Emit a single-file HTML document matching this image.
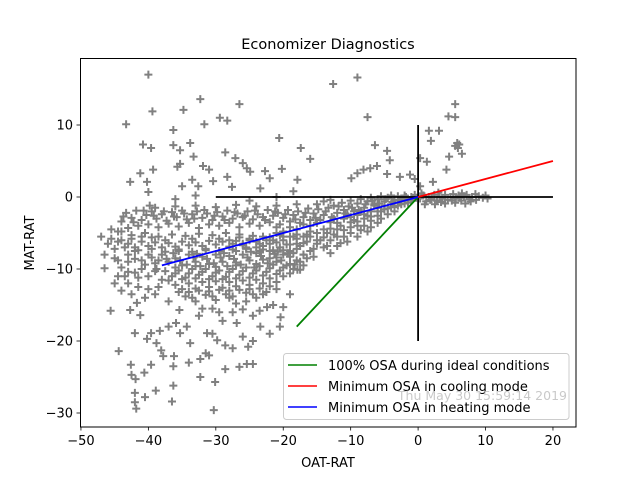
<!DOCTYPE html>
<html><head><meta charset="utf-8"><style>
html,body{margin:0;padding:0;background:#fff;}
svg{display:block;font-family:"DejaVu Sans","Liberation Sans",sans-serif;}
</style></head><body>
<svg id="chart" width="640" height="480" viewBox="0 0 640 480" xmlns="http://www.w3.org/2000/svg">
<rect x="0" y="0" width="640" height="480" fill="#fff"/>
<text x="328" y="49" text-anchor="middle" font-size="14.5" fill="#000">Economizer Diagnostics</text>
<g id="points"></g>
<g id="lines"></g>
<rect x="80.5" y="58.5" width="495.5" height="368.5" fill="none" stroke="#000" stroke-width="1"/>
<g id="xaxis"></g>
<g id="yaxis"></g>
<text x="328" y="467" text-anchor="middle" font-size="13">OAT-RAT</text>
<text x="34" y="243" text-anchor="middle" font-size="13" transform="rotate(-90 34 243)">MAT-RAT</text>
<g>
<rect x="283.5" y="353.5" width="285.5" height="66" rx="3" fill="#fff" fill-opacity="0.8" stroke="#ccc"/>
<line x1="288" y1="365" x2="317" y2="365" stroke="green" stroke-width="1.5"/>
<text x="328" y="370" font-size="13">100% OSA during ideal conditions</text>
<line x1="288" y1="386" x2="317" y2="386" stroke="red" stroke-width="1.5"/>
<text x="328" y="391" font-size="13">Minimum OSA in cooling mode</text>
<line x1="288" y1="407" x2="317" y2="407" stroke="blue" stroke-width="1.5"/>
<text x="328" y="412" font-size="13">Minimum OSA in heating mode</text>
</g>
<text x="567" y="400" text-anchor="end" font-size="12.5" fill="#bbb" fill-opacity="0.8">Thu May 30 15:59:14 2019</text>
</svg>
<script>
const xTicks = [-50,-40,-30,-20,-10,0,10,20];
const yTicks = [10,0,-10,-20,-30];
const outlierPoints = [[-40,17],[-9,16.6],[-12.6,15.7],[-32.3,13.6],[-26.5,12.9],[-39.4,11.9],[-34.8,12.1],[5.5,12.9],[-43.3,10.1],[-7.5,11.1],[4.5,11.2],[5.5,11.1],[-31.7,10.1],[-29.4,11],[-28.3,10.6],[-36.3,9.3],[-20.6,8.2],[1.6,9.2],[3.1,9.2],[1.9,7.8],[5.8,7.5],[5.5,7.1],[6.1,7.3],[5.9,6.8],[-40.8,7.3],[-39.6,6.8],[-36.3,7.2],[-35.3,6.5],[-33.8,7.5],[-17.4,6.8],[-6.4,7.2],[-4.6,6.4],[-28.6,6.2],[-33.3,5.6],[-27.1,5.4],[-26,4.7],[-25.4,4],[-16,5.3],[-4.2,5.1],[4.6,5.6],[6.5,6],[0.3,5.4],[1.3,4.9],[-39.3,3.8],[-41.2,3.3],[-35.7,4.2],[-35.3,4.6],[-31.9,4.3],[-31,3.8],[-20.2,3.9],[-22.7,3.6],[-22,2.6],[-24.9,3.5],[-28.3,2.8],[-17.9,2.4],[-9.9,2.6],[-9,3.3],[-8.1,3.8],[-7.1,4],[-6.1,4.3],[-4.6,3.2],[-2.7,2.8],[-1.2,3.1],[4.2,3.8],[2.2,2.1],[-42.7,2.1],[-40.2,2.1],[-35,1.5],[-33.5,2.4],[-32.6,1.5],[-30.4,2.2],[-40,0.7],[-39.8,-1.2],[-27.6,1.4],[-23.4,1.2],[-18.5,0.8],[0.3,1.5],[-0.5,2.5],[-36,-0.3],[-33,0.2],[-25,-0.5],[-21,0]];
const lowerScatter = [[-46.5,-9.9],[-45.6,-15.8],[-44.4,-21.4],[-42.6,-23.3],[-42.5,-24.7],[-41.9,-25.3],[-42,-27.2],[-42,-28.5],[-41.8,-29.4],[-40.5,-27.8],[-38.9,-26.9],[-40.6,-24.4],[-39.6,-23.3],[-36.5,-28.4],[-36.3,-26.2],[-36.3,-23.5],[-36.2,-22.1],[-37.8,-22.1],[-38.1,-21.3],[-32.3,-25],[-32.3,-22.5],[-31.5,-21.7],[-30.1,-25.7],[-30.3,-29.6],[-28.6,-23.9],[-26.5,-23.6],[-25.4,-23.2],[-24.5,-23.2],[-25.2,-20.8],[-28.6,-20.6],[-29.8,-19.9],[-33.8,-20.3],[-35.3,-18.9],[-34.3,-18],[-38.3,-18.6],[-37,-18],[-35.9,-17.5],[-40.2,-19.7],[-38.8,-20.3],[-42,-18.9],[-39.6,-18.9],[-41.2,-16.4],[-42.7,-15.7],[-41.7,-14.7],[-35.4,-15.7],[-19,-13.5],[-20.4,-16.7],[-20,-15.3],[-23.4,-18],[-26,-19.4],[-26.9,-17.5],[-31.3,-18.9],[-22.4,-15.3],[-21.5,-15],[-17.9,-10.1],[-17.5,-10.1],[-24.5,-16.5],[-27.5,-16],[-29,-17.2],[-30.5,-15.5],[-32.5,-16.5],[-28,-14],[-25.5,-14.5],[-23,-13.5],[-33.5,-14],[-37,-14.5],[-39,-13.5],[-44,-13],[-43.5,-11],[-45,-12],[-30.5,-19],[-27.5,-21],[-22,-19],[-20.5,-18],[-24.5,-20],[-31,-22],[-34,-23]];
const upperBand = [[-44,-3.4],[-43.3,-2.2],[-42.5,-2.9],[-41.8,-1.9],[-41,-3.2],[-40.3,-2.5],[-39.5,-2],[-38.8,-3],[-38,-2.4],[-37.3,-3.3],[-36.5,-2.1],[-35.8,-2.8],[-35,-1.9],[-34.3,-3.1],[-33.5,-2.4],[-32.8,-2],[-32,-2.9],[-31.3,-2.3],[-30.5,-3.2],[-29.8,-2.1],[-29,-2.7],[-28.3,-1.9],[-27.5,-3],[-26.8,-2.3],[-26,-2.8],[-25.3,-2],[-24.5,-3.1],[-23.8,-2.4],[-23,-2.8],[-22.3,-1.8],[-21.5,-2.6],[-20.8,-2.2],[-20,-2.9],[-19.3,-1.8],[-18.5,-2.5],[-17.8,-2],[-17,-2.8],[-16.3,-1.6],[-15.5,-2.3],[-14.8,-1.7],[-14,-2.5],[-13.3,-1.5],[-43,-4.3],[-41.5,-4],[-40,-3.8],[-38.5,-4.2],[-37,-3.7],[-35.5,-4.1],[-34,-3.6],[-32.5,-4.3],[-31,-3.8],[-29.5,-4],[-28,-3.6],[-26.5,-4.2],[-25,-3.7],[-23.5,-4],[-22,-3.5],[-20.5,-3.8],[-19,-3.4],[-17.5,-3.6],[-16,-3.2],[-44.5,-4.8],[-39,-1.5],[-36,-1.3],[-33,-1.2],[-30,-1.4],[-27,-1.1],[-24,-1.3],[-21,-1.2],[-18,-1],[-12.5,-1.2],[-12,-2.2],[-11.3,-0.8],[-11,-1.8],[-10.3,-1.3],[-10,-0.5],[-9.5,-2],[-9,-0.9],[-8.5,-0.3],[-8,-1.5],[-7.5,-0.6],[-7,-0.1],[-6.5,-1],[-6,-0.3],[-5.5,0.1],[-5,-0.6],[-4.5,-0.1],[-4,0.2],[-3.5,-0.4],[-3,0.1],[-2.5,-0.2],[-2,0.2],[-1.5,-0.3],[-1,0],[-0.5,0.3],[-13,-0.4],[-14,-0.6],[-15,-1]];
const upperFill = [[-43.7,-2.7],[-42.2,-3.5],[-40.7,-1.9],[-39.2,-2.6],[-37.7,-2],[-36.2,-2.7],[-34.7,-2.3],[-33.2,-3],[-31.7,-1.8],[-30.2,-2.6],[-28.7,-3.2],[-27.2,-2.1],[-25.7,-2.6],[-24.2,-1.9],[-22.7,-3.2],[-21.2,-2],[-19.7,-2.4],[-18.2,-3.1],[-16.7,-2.2],[-15.2,-2.9],[-13.7,-2],[-12.8,-2.8],[-11.8,-1.3],[-10.8,-2.3],[-9.8,-1.5],[-8.8,-1.8],[-7.8,-1],[-6.8,-0.5],[-5.8,-0.9],[-4.8,-0.3],[-3.8,-0.7],[-2.8,-0.4],[-1.8,0],[-0.8,-0.3],[-0.3,-0.1]];
const rightCluster = [[0.3,-0.2],[0.8,0.2],[1.2,-0.6],[1.6,0],[2,-0.3],[2.4,0.3],[2.8,-0.5],[3.2,0],[3.6,-0.2],[4,0.3],[4.4,-0.4],[4.8,0],[5.2,0.4],[5.6,-0.2],[6,0.2],[6.4,-0.5],[6.8,0.1],[7.2,0.3],[7.6,-0.3],[8,0],[8.6,-0.4],[9,0.1],[9.6,-0.1],[10,0.2],[10.3,-0.2],[1,-1],[2.5,-1],[4,-0.9],[5.5,-0.8],[7,-0.9],[0.5,0.5],[3,0.6],[6.5,0.5],[8.5,0.4],[1.8,-0.4],[3.4,-0.7],[5,-0.5],[6.2,-0.1],[7.8,-0.6]];
const blueBand = [[-28,-6],[-27,-7.5],[-26,-6.5],[-25,-6],[-24,-7],[-23,-5.5],[-22,-6.5],[-21,-5],[-20,-6],[-19,-5.5],[-18,-4.5],[-17,-5.5],[-16,-4],[-15,-5],[-14,-4.5],[-13,-3.5],[-12,-4.5],[-11,-3],[-10,-3.5],[-9,-2.5],[-8,-3],[-7,-2],[-6,-1.5],[-5,-1.2],[-4,-1],[-3,-0.8],[-2,-0.5],[-15,-6.5],[-14,-7],[-13,-6],[-12,-5.5],[-16,-7.5],[-17,-8],[-18,-6.5],[-19,-7.5],[-20,-8],[-22,-8.5],[-9,-4],[-10,-5],[-11,-5.5],[-13.5,-5],[-12.5,-3],[-11.5,-4],[-10.5,-2.5],[-9.5,-3.2],[-8.5,-2],[-7.5,-2.6],[-6.5,-1.2],[-5.5,-2],[-4.5,-1.6],[-3.5,-1.4],[-2.5,-1],[-1.5,-0.8],[-8,-4],[-7,-3.3],[-6,-2.6],[-14.5,-3.2],[-16.5,-5.2],[-18.5,-5.5],[-20.5,-7],[-21.5,-6],[-23.5,-6.5],[-12,-6.8],[-10.5,-6.2],[-13,-7.8],[-15.5,-8.3],[-17.5,-9],[-19,-9.3],[-9,-5.5],[-7.5,-4.8],[-6,-3.6]];
const blueFill = [[-21,-4.2],[-20,-4.8],[-19,-4.2],[-18,-5.2],[-17,-3.8],[-16,-4.8],[-15,-3.6],[-14,-5.6],[-13,-4.4],[-12,-3.6],[-11,-4.6],[-10,-2.8],[-9,-3.4],[-8,-2.4],[-7,-2.7],[-6,-2],[-5,-1.7],[-4,-1.4],[-3,-1.2],[-2,-0.9],[-1,-0.5],[-16.5,-6.2],[-15.5,-7.2],[-14.5,-6],[-13.5,-6.8],[-12.5,-5.2],[-11.5,-6.4],[-10,-4.2],[-17.5,-6.8],[-18.5,-7.8],[-19.5,-6.6],[-20.5,-5.3],[-21.5,-7.4],[-22.5,-6],[-23,-7.3],[-24.5,-5.4],[-25.5,-7],[-26.5,-5.6],[-8.5,-4.6],[-7,-4.2],[-5.5,-3],[-4.5,-2.4],[-3.5,-2]];
const middleBand = [[-43,-6.5],[-42,-7],[-41,-6.2],[-40,-6.8],[-39,-6.3],[-38,-7],[-37,-6.4],[-36,-6.9],[-35,-6.2],[-34,-6.7],[-33,-6.3],[-32,-6.8],[-31,-6.1],[-30,-6.6],[-29,-6.2],[-28,-6.9],[-27,-6.1],[-26,-6.7],[-25,-5.8],[-24,-6.2],[-23,-6.8],[-22,-5.6],[-21,-6.3],[-20,-5.5],[-19,-6.6],[-18,-5.8],[-17,-6.4],[-16,-5.5],[-15,-6],[-42.5,-5.3],[-40.5,-5],[-38.5,-5.5],[-36.5,-5.2],[-34.5,-5.4],[-32.5,-5.1],[-30.5,-5.3],[-28.5,-5],[-26.5,-5.2],[-44.5,-6.2],[-45.5,-5.8],[-41.5,-7.4],[-39.5,-7.2],[-37.5,-6],[-35.5,-7.3],[-33.5,-5.8],[-31.5,-7.2],[-29.5,-5.8],[-27.5,-6.5]];
const lowerCluster = [[-38,-8],[-37,-9],[-36,-8.5],[-35,-9.5],[-34,-8],[-33,-9],[-32,-8.3],[-31,-9.3],[-30,-8],[-29,-9],[-28,-8.2],[-27,-9.1],[-26,-8],[-25,-8.8],[-24,-7.8],[-23,-8.7],[-22,-7.5],[-21,-8.4],[-20,-7.4],[-19,-8.3],[-18,-7.2],[-17,-8],[-37.5,-10.3],[-36.5,-11],[-35.5,-10.2],[-34.5,-11.2],[-33.5,-10],[-32.5,-10.8],[-31.5,-10],[-30.5,-11],[-29.5,-10.2],[-28.5,-11.1],[-27.5,-10],[-26.5,-10.8],[-25.5,-9.8],[-24.5,-10.6],[-23.5,-9.6],[-22.5,-10.4],[-21.5,-9.4],[-20.5,-10.2],[-19.5,-9.5],[-18.5,-10],[-36,-12.2],[-35,-12.8],[-34,-12],[-33,-12.7],[-32,-11.8],[-31,-12.5],[-30,-11.7],[-29,-12.6],[-28,-11.8],[-27,-12.4],[-26,-11.6],[-25,-12.2],[-24,-11.5],[-23,-12],[-22,-11.3],[-21,-11.8],[-20,-11],[-34.5,-13.8],[-33,-14.5],[-31.5,-13.6],[-30,-14.3],[-28.5,-13.5],[-27,-14.8],[-25.5,-13.3],[-24,-14],[-22.5,-13.2],[-21,-12.8],[-32,-15.5],[-29.5,-16],[-26,-15.6],[-23.5,-15.8],[-38.5,-8.8],[-37.5,-7.6],[-35.5,-7.5],[-33.5,-7.6],[-31.5,-7.4],[-29.5,-7.5],[-27.5,-7.3],[-25.5,-7.2],[-23.5,-7.5],[-36,-9.8],[-33,-9.6],[-30,-9.7],[-27,-9.5],[-24,-9.3],[-21,-9],[-18,-8.8],[-17,-9.5],[-16.5,-8.5]];
const lowerFill = [[-37.3,-8.6],[-36.3,-7.8],[-35.3,-8.8],[-34.3,-9.4],[-33.3,-8.4],[-32.3,-9.6],[-31.3,-8.6],[-30.3,-9.2],[-29.3,-8.4],[-28.3,-9.6],[-27.3,-8.6],[-26.3,-9.4],[-25.3,-8.4],[-24.3,-9.8],[-23.3,-8.2],[-22.3,-9.2],[-21.3,-7.9],[-20.3,-8.8],[-19.3,-7.8],[-18.3,-9.4],[-37,-11.6],[-36,-10.6],[-35,-11.4],[-34,-10.6],[-33,-11.3],[-32,-10.4],[-31,-11.4],[-30,-10.5],[-29,-11.4],[-28,-10.4],[-27,-11.3],[-26,-10.3],[-25,-11.2],[-24,-10.2],[-23,-10.9],[-22,-9.9],[-21,-10.7],[-20,-9.8],[-19,-10.6],[-35.5,-13.2],[-34,-13.2],[-32.5,-13],[-31,-13.1],[-29.5,-12.9],[-28,-13],[-26.5,-12.9],[-25,-12.8],[-23.5,-12.7],[-22,-12.4],[-30.5,-13.8],[-27.5,-13.8],[-24.5,-13.5],[-32.8,-7.9],[-28.8,-7.8],[-24.8,-7.6],[-20.8,-7.6]];
const leftCluster = [[-46,-6.5],[-45,-7.2],[-44,-6],[-43,-8],[-42,-7.5],[-41,-8.8],[-40,-8],[-39,-9.2],[-45,-8.5],[-44,-9.8],[-43,-9],[-42,-10.5],[-41,-10],[-40,-11],[-39,-10.3],[-38,-11.5],[-44.5,-11],[-43,-12],[-41.5,-12.5],[-40,-12.8],[-38.5,-12.5],[-45.5,-4.5],[-44,-4.8],[-42.5,-5.8],[-41,-5.5],[-39.5,-5.6],[-46.5,-8],[-47,-5.5],[-42.5,-13.5],[-40.5,-14],[-43.5,-7],[-42,-8.6],[-40.5,-9.4],[-39.5,-8.4],[-41.5,-11.2],[-38.8,-10],[-44.5,-8.8],[-43,-10.4]];

const X0 = 418.1, XS = 6.743, Y0 = 197, YS = 7.2;
function px(v){ return X0 + v * XS; }
function py(v){ return Y0 - v * YS; }
const NS = 'http://www.w3.org/2000/svg';
function mk(tag, attrs, parent){ const e = document.createElementNS(NS, tag); for (const k in attrs) e.setAttribute(k, attrs[k]); parent.appendChild(e); return e; }

const pg = document.getElementById('points');
const groups = [outlierPoints, lowerScatter, upperBand, upperFill, rightCluster, blueBand, blueFill, middleBand, lowerCluster, lowerFill, leftCluster];
groups.forEach(function(arr){
  arr.forEach(function(p){
    const x = px(p[0]), y = py(p[1]);
    const path = mk('path', {d: 'M'+(x-4)+' '+y+'H'+(x+4)+'M'+x+' '+(y-4)+'V'+(y+4), stroke: '#808080', 'stroke-width': 2, fill: 'none'}, pg);
    
    
  });
});

const lg = document.getElementById('lines');
const refLines = [
  {n:'zero-horizontal-line', x1:-30, y1:0, x2:20, y2:0, c:'#000'},
  {n:'zero-vertical-line', x1:0, y1:-20, x2:0, y2:10, c:'#000'},
  {n:'ideal-conditions-line', x1:-18, y1:-18, x2:0, y2:0, c:'green'},
  {n:'cooling-mode-line', x1:0, y1:0, x2:20, y2:5, c:'red'},
  {n:'heating-mode-line', x1:-38, y1:-9.5, x2:0, y2:0, c:'blue'}
];
refLines.forEach(function(l){
  const e = mk('line', {x1:px(l.x1), y1:py(l.y1), x2:px(l.x2), y2:py(l.y2), stroke:l.c, 'stroke-width':1.8}, lg);
  
  
});

const xg = document.getElementById('xaxis');
xTicks.forEach(function(t){
  const x = px(t);
  const tk = mk('line', {x1:x, y1:427, x2:x, y2:430.5, stroke:'#000', 'stroke-width':0.8}, xg);
  
  
  const tx = mk('text', {x:x, y:445, 'text-anchor':'middle', 'font-size':13}, xg);
  
  
  tx.textContent = t < 0 ? '\u2212' + Math.abs(t) : String(t);
});
const yg = document.getElementById('yaxis');
yTicks.forEach(function(t){
  const y = py(t);
  const tk = mk('line', {x1:76.5, y1:y, x2:80, y2:y, stroke:'#000', 'stroke-width':0.8}, yg);
  
  
  const tx = mk('text', {x:73, y:y+4.5, 'text-anchor':'end', 'font-size':13}, yg);
  
  
  tx.textContent = t < 0 ? '\u2212' + Math.abs(t) : String(t);
});
</script>
</body></html>
